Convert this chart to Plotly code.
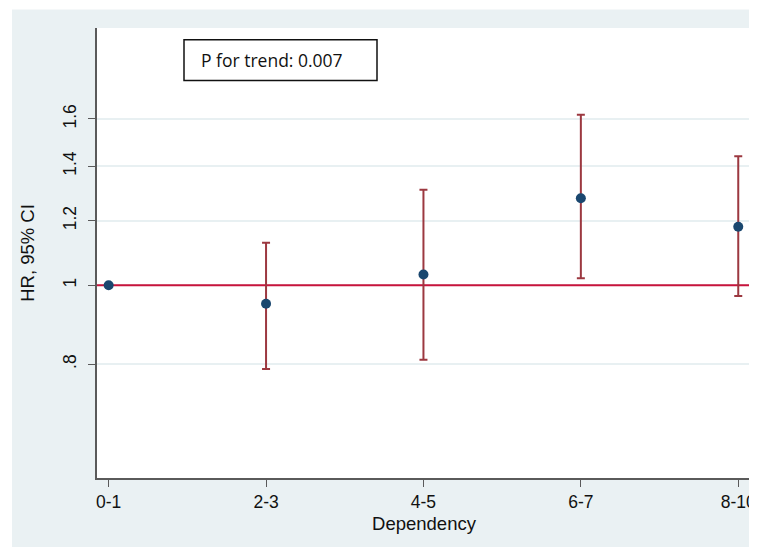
import math
import plotly.graph_objects as go

categories = ["0-1", "2-3", "4-5", "6-7", "8-10"]
hr = [1.0, 0.949, 1.031, 1.279, 1.180]
ci_low = [1.0, 0.789, 0.810, 1.020, 0.970]
ci_high = [1.0, 1.128, 1.310, 1.619, 1.440]
y_ticks = [0.8, 1.0, 1.2, 1.4, 1.6]
y_tick_labels = [".8", "1", "1.2", "1.4", "1.6"]
p_text = "P for trend: 0.007"

xpos = list(range(len(categories)))
err_plus = [h - v for h, v in zip(ci_high, hr)]
err_minus = [v - l for v, l in zip(hr, ci_low)]

# page body margin offsets the figure by 8px
OFF = 8
W, H = 757 - OFF, 547 - OFF
ML, MR, MT, MB = 97 - OFF, 6, 27.5 - OFF, 69
pw = W - ML - MR
ph = H - MT - MB

def px_x(p):  # screen px -> paper
    return (p - OFF - ML) / pw

def px_y(p):
    return (H - MB - (p - OFF)) / ph

fig = go.Figure()

fig.add_trace(go.Scatter(
    x=[-0.2, 4.3], y=[1, 1], mode="lines",
    line=dict(color="#c8143c", width=2), hoverinfo="skip", showlegend=False))

fig.add_trace(go.Scatter(
    x=xpos[1:], y=hr[1:], mode="markers",
    marker=dict(size=1, color="rgba(0,0,0,0)"),
    error_y=dict(type="data", symmetric=False, array=err_plus[1:],
                 arrayminus=err_minus[1:], color="#9c3840", thickness=2, width=4),
    showlegend=False))

fig.add_trace(go.Scatter(
    x=xpos, y=hr, mode="markers",
    marker=dict(size=10, color="#1a476f"),
    showlegend=False))

fig.update_layout(
    width=W, height=H,
    margin=dict(l=ML, r=MR, t=MT, b=MB, autoexpand=False),
    paper_bgcolor="#eaf1f3",
    plot_bgcolor="white",
    font=dict(family="Liberation Sans, Arial, sans-serif", color="#111111"),
    xaxis=dict(
        range=[-0.074, 4.081], tickmode="array", tickvals=xpos, ticktext=categories,
        showgrid=False, zeroline=False, showline=True, linecolor="#5a5a5a", linewidth=1.5,
        ticks="outside", ticklen=7, tickcolor="#5a5a5a", tickwidth=1.2,
        tickfont=dict(size=17.5),
        title=dict(text="Dependency", font=dict(size=18.5), standoff=6),
    ),
    yaxis=dict(
        type="log", range=[math.log10(0.580), math.log10(2.069)],
        tickmode="array", tickvals=y_ticks, ticktext=y_tick_labels, tickangle=-90,
        showgrid=True, gridcolor="#e8f0f2", gridwidth=1.5,
        zeroline=False, showline=True, linecolor="#5a5a5a", linewidth=1.5,
        ticks="outside", ticklen=7, tickcolor="#5a5a5a", tickwidth=1.2,
        ticklabelstandoff=5,
        tickfont=dict(size=17.5),
        title=dict(text="HR, 95% CI", font=dict(size=18.5), standoff=21),
    ),
    shapes=[
        dict(type="rect", xref="paper", yref="paper", layer="below",
             x0=px_x(0), x1=px_x(12), y0=px_y(560), y1=px_y(0),
             fillcolor="white", line=dict(width=0)),
        dict(type="rect", xref="paper", yref="paper", layer="below",
             x0=px_x(0), x1=px_x(770), y0=px_y(9), y1=px_y(0),
             fillcolor="white", line=dict(width=0)),
        dict(type="rect", xref="paper", yref="paper",
             x0=px_x(184), x1=px_x(377), y0=px_y(80), y1=px_y(39.3),
             fillcolor="white", line=dict(color="#111111", width=1.5)),
    ],
    annotations=[
        dict(text=p_text, xref="paper", yref="paper",
             x=px_x(199), y=px_y(59.7), xanchor="left", yanchor="middle",
             showarrow=False, font=dict(family="Open Sans, sans-serif", size=17.5, color="#111111")),
    ],
)

fig.write_html("out.html")
